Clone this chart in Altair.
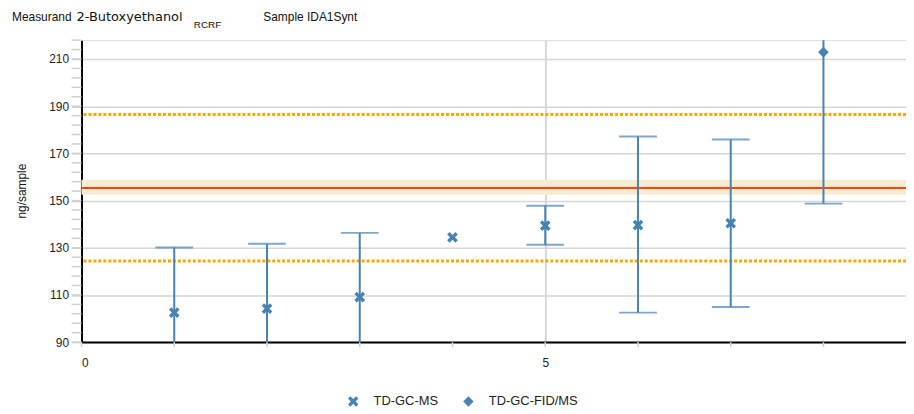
import altair as alt
import pandas as pd

# ---- data ----
positions = [1, 2, 3, 4, 5, 6, 7, 8]
methods = ["TD-GC-MS"] * 7 + ["TD-GC-FID/MS"]
values = [102.5, 104.2, 109.1, 134.4, 139.4, 139.6, 140.4, 212.9]
lowers = [74.9, 76.7, 81.9, None, 131.3, 102.5, 104.9, 148.7]
uppers = [130.1, 131.7, 136.3, None, 147.8, 177.2, 175.9, 277.0]

ref_value = [155.3]
ref_band_low = [152.5]
ref_band_high = [158.8]
tolerance_lines = [124.4, 186.5]

y_major = [90, 110, 130, 150, 170, 190, 210]
y_minor = list(range(90, 219, 4))
x_labels = [0, 5]
x_minor = [0, 1, 2, 3, 4, 5, 6, 7, 8]

legend_order = ["TD-GC-MS", "TD-GC-FID/MS"]
x_path = ("M-1,-0.55L-0.55,-1L0,-0.45L0.55,-1L1,-0.55L0.45,0L1,0.55L0.55,1"
          "L0,0.45L-0.55,1L-1,0.55L-0.45,0Z")

FONT = "Liberation Sans"
BLUE = "#4682b4"
W, H = 830, 304

df = pd.DataFrame({"pos": positions, "method": methods, "value": values,
                   "lo": lowers, "hi": uppers})
err = df.dropna()

xs = alt.Scale(domain=[0, 8.89], nice=False, zero=False)
ys = alt.Scale(domain=[90, 218], nice=False, zero=False)

x_axis = alt.Axis(values=x_labels, grid=True, gridColor="#d6d6d6", gridWidth=2,
                  ticks=False, tickSize=0, labelPadding=16, labelFont=FONT,
                  labelFontSize=12, labelColor="#222", domainColor="#000",
                  domainWidth=2, title=None, format="d")
y_axis = alt.Axis(values=y_major, grid=True, gridColor="#d6d6d6", gridWidth=1.5,
                  ticks=True, tickSize=10, tickColor="#cfcfcf", tickWidth=1.5,
                  labelPadding=3, labelFont=FONT, labelFontSize=12,
                  labelColor="#222", domainColor="#000", domainWidth=2,
                  title=None, format="d")

base = alt.Chart(df).mark_point(opacity=0).encode(
    x=alt.X("pos:Q", scale=xs, axis=x_axis),
    y=alt.Y("value:Q", scale=ys, axis=y_axis),
)

band = alt.Chart(pd.DataFrame({"lo": ref_band_low, "hi": ref_band_high})).mark_rect(
    color="#f4ebd2").encode(
    y=alt.Y("lo:Q", scale=ys), y2="hi:Q",
    x=alt.value(0), x2=alt.value(W))

ref_line = alt.Chart(pd.DataFrame({"v": ref_value})).mark_rule(
    color="#ff4500", strokeWidth=2).encode(y=alt.Y("v:Q", scale=ys))

tol = alt.Chart(pd.DataFrame({"v": tolerance_lines})).mark_rule(
    color="#ffa500", strokeWidth=3, strokeDash=[3, 2]).encode(
    y=alt.Y("v:Q", scale=ys))

y_minor_ticks = alt.Chart(pd.DataFrame({"v": y_minor})).mark_rule(
    color="#cfcfcf", strokeWidth=1.5).encode(
    y=alt.Y("v:Q", scale=ys), x=alt.value(-10), x2=alt.value(0))

x_minor_ticks = alt.Chart(pd.DataFrame({"v": x_minor})).mark_rule(
    color="#cfcfcf", strokeWidth=1.5).encode(
    x=alt.X("v:Q", scale=xs), y=alt.value(H), y2=alt.value(H + 5))

bars = alt.Chart(err).mark_rule(color=BLUE, strokeWidth=2, clip=True).encode(
    x=alt.X("pos:Q", scale=xs), y=alt.Y("lo:Q", scale=ys), y2="hi:Q")

caps_lo = alt.Chart(err).mark_tick(color=BLUE, orient="horizontal", size=38,
                                   thickness=2, clip=True).encode(
    x=alt.X("pos:Q", scale=xs), y=alt.Y("lo:Q", scale=ys))
caps_hi = alt.Chart(err).mark_tick(color=BLUE, orient="horizontal", size=38,
                                   thickness=2, clip=True).encode(
    x=alt.X("pos:Q", scale=xs), y=alt.Y("hi:Q", scale=ys))

points = alt.Chart(df).mark_point(filled=True, size=115, opacity=1,
                                  color=BLUE, clip=True).encode(
    x=alt.X("pos:Q", scale=xs),
    y=alt.Y("value:Q", scale=ys),
    shape=alt.Shape("method:N",
                    scale=alt.Scale(domain=legend_order, range=[x_path, "diamond"]),
                    legend=alt.Legend(title=None, orient="none", legendX=267,
                                      legendY=357, direction="horizontal",
                                      columns=2, columnPadding=24,
                                      labelFont=FONT, labelFontSize=13,
                                      labelColor="#222", labelOffset=14,
                                      symbolSize=110, symbolFillColor=BLUE,
                                      symbolStrokeColor=BLUE,
                                      symbolStrokeWidth=0)),
)


def label(txt, x, y, size=12, font=FONT):
    return alt.Chart(pd.DataFrame({"t": [txt]})).mark_text(
        font=font, fontSize=size, color="#111", align="left",
        baseline="alphabetic").encode(x=alt.value(x), y=alt.value(y), text="t:N")


title_a = label("Measurand", -70, -19.5)
title_b = label("2-Butoxyethanol", -5, -19.5, 13, "DejaVu Sans")
title_sub = label("RCRF", 113, -12.3, 10)
title_sample = label("Sample IDA1Synt", 183, -19.5)
y_title = alt.Chart(pd.DataFrame({"t": ["ng/sample"]})).mark_text(
    font=FONT, fontSize=12, color="#111", align="center", baseline="middle",
    angle=270).encode(x=alt.value(-60), y=alt.value(H / 2), text="t:N")

chart = alt.layer(
    base, band, ref_line, tol, y_minor_ticks, x_minor_ticks, bars, caps_lo,
    caps_hi, points, title_a, title_b, title_sub, title_sample, y_title
).properties(
    width=W, height=H,
    autosize=alt.AutoSizeParams(type="none"),
    padding={"left": 74, "top": 31, "right": 0, "bottom": 67},
).configure_view(stroke=None).configure(background="white")

chart.save("out.html", embed_options={"renderer": "svg", "actions": False})
